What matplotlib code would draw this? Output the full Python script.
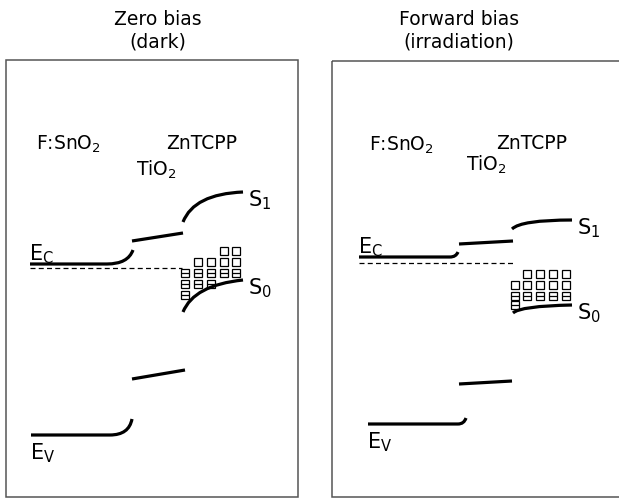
import matplotlib
matplotlib.use("Agg")
import matplotlib.pyplot as plt
from matplotlib.path import Path
from matplotlib.patches import PathPatch, Rectangle

plt.rcParams["font.family"] = ["DejaVu Sans"]
plt.rcParams["mathtext.default"] = "regular"

W, H = 619, 499

# ---- panel headings and material names ----
panel_titles = [("Zero bias", "(dark)"), ("Forward bias", "(irradiation)")]
materials = ["F:SnO$_2$", "TiO$_2$", "ZnTCPP"]

# ---- band edges (diagram units, y grows downward) ----
# each bent edge: flat start, flat end, bend control, bend end
dark_cb_sno2 = [(30, 264), (107, 264), (128, 264), (133, 250)]
dark_vb_sno2 = [(31, 435), (110, 435), (129, 435), (132, 419)]
dark_cb_tio2 = [(132, 241), (183, 233)]
dark_vb_tio2 = [(132, 379), (185, 370)]
dark_s1 = [(183, 222), (194, 194), (243, 192)]
dark_s0 = [(183, 312), (194, 285), (243, 280)]
dark_fermi = [(30, 268), (182, 268)]

fwd_cb_sno2 = [(359, 257), (450, 257), (456, 257), (458, 252)]
fwd_vb_sno2 = [(368, 424), (458, 424), (464, 424), (466, 418)]
fwd_cb_tio2 = [(459, 244), (513, 241)]
fwd_vb_tio2 = [(459, 384), (512, 381)]
fwd_s1 = [(512, 229), (521, 220), (572, 220)]
fwd_s0 = [(513, 313), (520, 306), (572, 305)]
fwd_fermi = [(359, 263), (513, 263)]

# ---- interface states: column x, row y, empty cells, filled cells ----
dark_state_x = [185, 198, 211, 224, 236]
dark_state_y = [251, 262, 273, 284, 295]
dark_empty = [(0, 3), (0, 4), (1, 1), (1, 2), (1, 3), (1, 4)]
dark_filled = [(2, 0), (2, 1), (2, 2), (2, 3), (2, 4), (3, 0), (3, 1), (3, 2), (4, 0)]

fwd_state_x = [515, 527, 540, 553, 566]
fwd_state_y = [274, 285, 296, 305]
fwd_empty = [(0, 1), (0, 2), (0, 3), (0, 4), (1, 0), (1, 1), (1, 2), (1, 3), (1, 4)]
fwd_filled = [(2, 0), (2, 1), (2, 2), (2, 3), (2, 4), (3, 0)]

fig = plt.figure(figsize=(W / 100, H / 100), dpi=100)
ax = fig.add_axes([0, 0, 1, 1])
ax.set_xlim(0, W)
ax.set_ylim(H, 0)
ax.axis("off")

BAND_LW = 2.3
BOX_COLOR = "#555555"

# panel frames
ax.add_patch(Rectangle((6, 60), 292, 437, fill=False, ec=BOX_COLOR, lw=1.1))
ax.add_patch(Rectangle((332, 61), 300, 436, fill=False, ec=BOX_COLOR, lw=1.1))


def bent_edge(pts):
    codes = [Path.MOVETO, Path.LINETO, Path.CURVE3, Path.CURVE3]
    ax.add_patch(PathPatch(Path(list(pts), codes), fill=False, lw=BAND_LW,
                           ec="black", capstyle="butt", zorder=4))


def curved_level(pts):
    codes = [Path.MOVETO, Path.CURVE3, Path.CURVE3]
    ax.add_patch(PathPatch(Path(list(pts), codes), fill=False, lw=BAND_LW,
                           ec="black", capstyle="butt", zorder=4))


def straight(pts):
    xs, ys = zip(*pts)
    ax.plot(xs, ys, color="black", lw=BAND_LW, solid_capstyle="butt", zorder=4)


def fermi(pts):
    xs, ys = zip(*pts)
    ax.plot(xs, ys, color="black", lw=0.9, ls=(0, (4, 2.6)), zorder=3)


def states(xs, ys, empty, filled):
    for r, c in empty:
        ax.plot(xs[c], ys[r], marker="s", ms=5.4, mfc="white", mec="black",
                mew=0.9, zorder=2)
    for r, c in filled:
        ax.plot(xs[c], ys[r], marker="s", ms=5.4, mfc="white", mec="black",
                mew=0.9, zorder=2)
        ax.plot(xs[c], ys[r], marker="_", ms=5.4, mec="black", mew=0.9,
                zorder=2)


for cb, vb, cbt, vbt, s1, s0, ef, sx, sy, se, sf in [
    (dark_cb_sno2, dark_vb_sno2, dark_cb_tio2, dark_vb_tio2, dark_s1, dark_s0,
     dark_fermi, dark_state_x, dark_state_y, dark_empty, dark_filled),
    (fwd_cb_sno2, fwd_vb_sno2, fwd_cb_tio2, fwd_vb_tio2, fwd_s1, fwd_s0,
     fwd_fermi, fwd_state_x, fwd_state_y, fwd_empty, fwd_filled),
]:
    states(sx, sy, se, sf)
    fermi(ef)
    bent_edge(cb)
    bent_edge(vb)
    straight(cbt)
    straight(vbt)
    curved_level(s1)
    curved_level(s0)

    # band labels
    ax.text(cb[0][0] - 1, cb[0][1] - 4, "E$_C$", fontsize=15, ha="left",
            va="baseline", color="black")
    ax.text(vb[0][0] - 1, vb[0][1] + 24, "E$_V$", fontsize=15, ha="left",
            va="baseline", color="black")
    ax.text(s1[-1][0] + 5, s1[-1][1] + 14, "S$_1$", fontsize=15, ha="left",
            va="baseline", color="black")
    ax.text(s0[-1][0] + 5, s0[-1][1] + 14, "S$_0$", fontsize=15, ha="left",
            va="baseline", color="black")

# headings, two lines each
title_x = [158, 459]
for tx, (line1, line2) in zip(title_x, panel_titles):
    ax.text(tx, 25, line1, fontsize=13.5, ha="center", va="baseline",
            color="black")
    ax.text(tx, 47, line2, fontsize=13.5, ha="center", va="baseline",
            color="black")

# material names
mat_pos = [[(68, 150), (156, 176), (202, 149)],
           [(401, 151), (486, 171), (532, 149)]]
for panel in mat_pos:
    for (mx, my), name in zip(panel, materials):
        ax.text(mx, my, name, fontsize=13.5, ha="center", va="baseline",
                color="black")

fig.savefig("out.png", dpi=100)
